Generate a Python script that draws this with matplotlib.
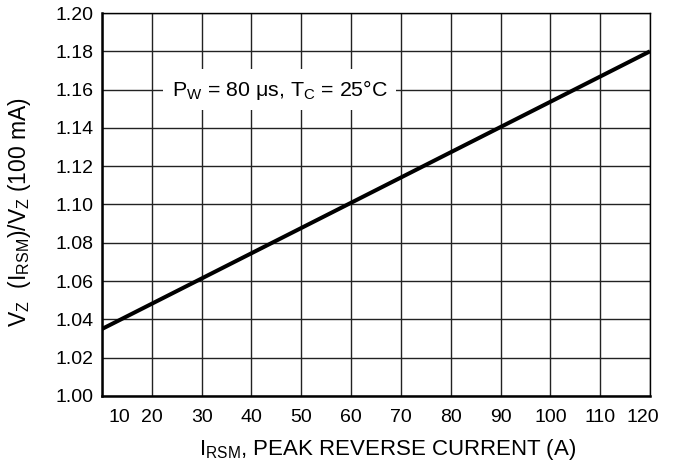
import matplotlib
matplotlib.use("Agg")
import matplotlib.pyplot as plt
import matplotlib.transforms as mtransforms
import numpy as np

plt.rcParams['font.family'] = ['Liberation Sans', 'DejaVu Sans']
plt.rcParams['mathtext.fontset'] = 'custom'
plt.rcParams['mathtext.rm'] = 'Liberation Sans'
plt.rcParams['mathtext.it'] = 'Liberation Sans'

# datos
corriente = [10, 120]          # I_RSM (A)
relacion_vz = [1.035, 1.18]    # Vz(I_RSM)/Vz(100 mA)
x_ticks = [10, 20, 30, 40, 50, 60, 70, 80, 90, 100, 110, 120]
y_ticks = [1.00, 1.02, 1.04, 1.06, 1.08, 1.10, 1.12, 1.14, 1.16, 1.18, 1.20]
nota = 'P$_\\mathregular{W}$ = 80 μs, T$_\\mathregular{C}$ = 25°C'
nota_pos = (45.7, 1.16)

fig = plt.figure(figsize=(6.76, 4.71), dpi=100)
ax = fig.add_axes([102 / 676, 75 / 471, 548 / 676, 383 / 471])

ax.plot(corriente, relacion_vz, color='black', lw=2.9, solid_capstyle='butt', zorder=3)

ax.set_xlim(10, 120)
ax.set_ylim(1.00, 1.20)
ax.set_xticks(x_ticks)
ax.set_yticks(y_ticks)
ax.set_yticklabels([f'{v:.2f}' for v in y_ticks])
ax.grid(True, color='#222222', lw=1.0)
ax.set_axisbelow(True)
ax.tick_params(length=0, labelsize=14, colors='black')
ax.tick_params(axis='x', pad=9)
ax.tick_params(axis='y', pad=6)

for lado in ['left', 'bottom']:
    ax.spines[lado].set_linewidth(1.8)
for lado in ['top', 'right']:
    ax.spines[lado].set_linewidth(1.0)

# desplazar primera y ultima etiqueta del eje x
etiquetas = ax.get_xticklabels()
etiquetas[0].set_transform(etiquetas[0].get_transform() +
                           mtransforms.ScaledTranslation(17 / 100, 0, fig.dpi_scale_trans))
etiquetas[-1].set_transform(etiquetas[-1].get_transform() +
                            mtransforms.ScaledTranslation(-7 / 100, 0, fig.dpi_scale_trans))

ax.text(nota_pos[0], nota_pos[1], nota, fontsize=15.4, ha='center', va='center',
        bbox=dict(boxstyle='square,pad=0.4', facecolor='white', edgecolor='none'), zorder=4)

ax.set_ylabel('V$_\\mathregular{Z}$  (I$_\\mathregular{RSM}$)/V$_\\mathregular{Z}$ (100 mA)', fontsize=16.5)
ax.yaxis.set_label_coords(-0.126, 0.48)
ax.set_xlabel('I$_\\mathregular{RSM}$, PEAK REVERSE CURRENT (A)', fontsize=16)
ax.xaxis.set_label_coords(0.522, -0.108)

fig.savefig('out.png', dpi=100)
